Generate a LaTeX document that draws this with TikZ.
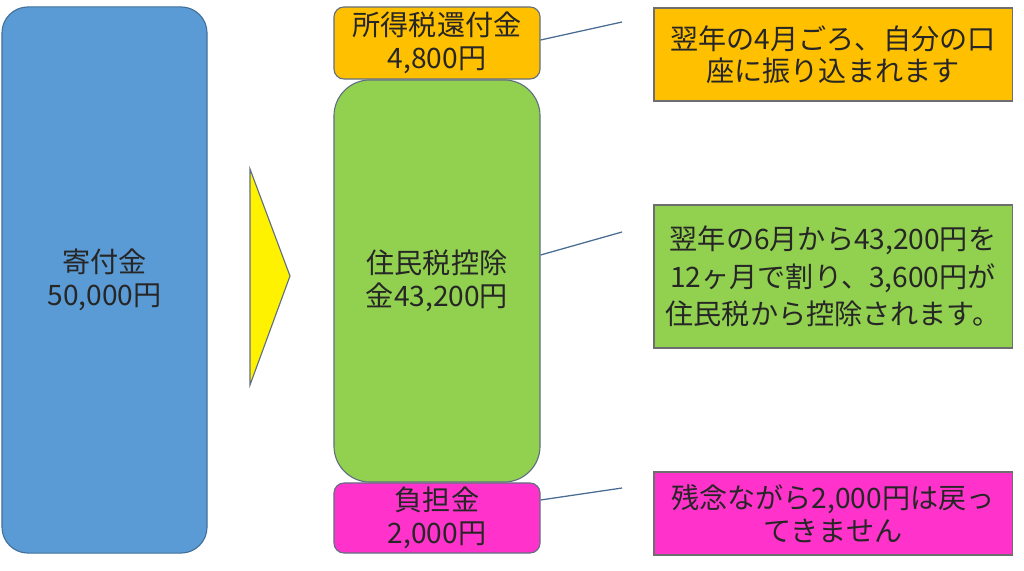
\documentclass[tikz,border=0pt]{standalone}
\usepackage{fontspec}
\setmainfont{Noto Sans CJK JP}
\usetikzlibrary{positioning,calc}
\definecolor{donationblue}{RGB}{91,155,213}
\definecolor{donationedge}{RGB}{65,113,156}
\definecolor{refundorange}{RGB}{255,192,0}
\definecolor{residentgreen}{RGB}{146,208,80}
\definecolor{burdenpink}{RGB}{255,51,204}
\definecolor{shapeedge}{RGB}{96,112,128}
\definecolor{noteedge}{RGB}{110,110,110}
\definecolor{leaderline}{RGB}{74,108,146}
\definecolor{textdark}{RGB}{38,38,38}

\begin{document}
\begin{tikzpicture}[
    x=0.025cm, y=-0.025cm,
    amount/.style={rectangle, draw=shapeedge, line width=0.8pt, minimum width=5.15cm, align=center,
        text=textdark, font=\fontsize{20pt}{23pt}\selectfont, inner sep=0pt},
    note/.style={rectangle, draw=noteedge, line width=0.8pt, minimum width=8.95cm, align=center,
        text=textdark, font=\fontsize{20pt}{22.5pt}\selectfont, inner sep=0pt},
    leader/.style={draw=leaderline, line width=0.9pt}
]
    \useasboundingbox (0,0) rectangle (1024,571);

    % Donation
    \node[amount, fill=donationblue, draw=donationedge, minimum width=5.125cm, minimum height=13.65cm,
        rounded corners=0.65cm] (donation) at (104.5,280) {寄付金\\50,000円};

    % Arrow
    \coordinate (arrowtop) at (250,169);
    \coordinate (arrowtip) at (290,276);
    \coordinate (arrowbot) at (250,385);
    \draw[fill=yellow, draw=shapeedge, line width=0.8pt] (arrowtop) -- (arrowtip) -- (arrowbot) -- cycle;

    % Breakdown
    \node[amount, fill=refundorange, minimum height=1.8cm, rounded corners=0.25cm] (refund) at (437,43)
        {所得税還付金\\4,800円};
    \node[amount, fill=residentgreen, minimum height=10.05cm, rounded corners=0.9cm] (resident) at (437,281)
        {住民税控除\\金43,200円};
    \node[amount, fill=burdenpink, minimum height=1.75cm, rounded corners=0.25cm] (burden) at (437,518)
        {負担金\\2,000円};

    % Notes
    \node[note, fill=refundorange, minimum height=2.325cm] (refundnote) at (833,54.5)
        {翌年の4月ごろ、自分の口\\座に振り込まれます};
    \node[note, fill=residentgreen, minimum height=3.575cm, font=\fontsize{20pt}{26.5pt}\selectfont]
        (residentnote) at (833,276.5)
        {翌年の6月から43,200円を\\12ヶ月で割り、3,600円が\\住民税から控除されます。};
    \node[note, fill=burdenpink, minimum height=2.075cm, font=\fontsize{20pt}{23.5pt}\selectfont]
        (burdennote) at (833,513.5)
        {残念ながら2,000円は戻っ\\てきません};

    % Leaders
    \coordinate (refundend) at (622,22);
    \coordinate (residentend) at (622,232);
    \coordinate (burdenend) at (622,488);
    \draw[leader] ([yshift=0.075cm]refund.east) -- (refundend);
    \draw[leader] ([yshift=0.65cm]resident.east) -- (residentend);
    \draw[leader] ([yshift=0.45cm]burden.east) -- (burdenend);
\end{tikzpicture}
\end{document}
